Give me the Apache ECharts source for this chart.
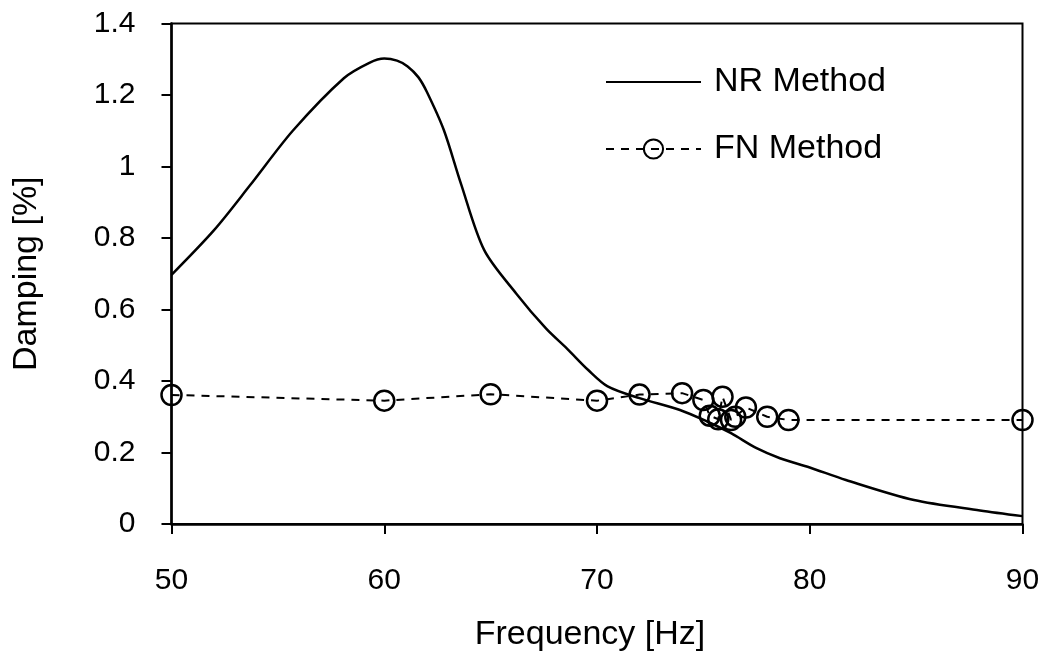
<!DOCTYPE html>
<html>
<head>
<meta charset="utf-8">
<script src="https://cdn.jsdelivr.net/npm/echarts@6/dist/echarts.min.js"></script>
<style>
html,body{margin:0;padding:0;background:#fff;}
#c{width:1052px;height:662px;}
</style>
</head>
<body>
<div id="c"></div>
<script>
var nrFreq = [50, 52, 53.7, 55.7, 58.1, 59.3, 60.0, 60.6, 61.1, 61.6, 62.0, 62.8, 63.6, 64.7, 66.2, 67.6, 68.6, 69.6, 70.5, 72.0, 73.9, 75.2, 76.3, 77.5, 78.6, 80.0, 81.7, 84.9, 88, 90];
var nrDamp = [0.697, 0.822, 0.948, 1.10, 1.247, 1.290, 1.302, 1.296, 1.280, 1.250, 1.209, 1.102, 0.953, 0.766, 0.645, 0.547, 0.490, 0.430, 0.385, 0.352, 0.319, 0.286, 0.254, 0.212, 0.184, 0.158, 0.123, 0.067, 0.038, 0.022];
var fnFreq = [50, 60, 65, 70, 72, 74, 75, 75.3, 75.7, 75.9, 76.3, 76.5, 77.0, 78.0, 79.0, 90];
var fnDamp = [0.361, 0.345, 0.363, 0.345, 0.362, 0.366, 0.347, 0.303, 0.293, 0.356, 0.291, 0.300, 0.326, 0.300, 0.291, 0.291];
var xTicks = [50, 60, 70, 80, 90];
var yTicks = [0, 0.2, 0.4, 0.6, 0.8, 1, 1.2, 1.4];
var seriesNames = ['NR Method', 'FN Method'];

function pairs(xs, ys){ return xs.map(function(x,i){ return [x, ys[i]]; }); }

var font = 'Liberation Sans, Arial, sans-serif';
var chart = echarts.init(document.getElementById('c'), null, {renderer:'canvas'});
chart.setOption({
  animation: false,
  backgroundColor: '#fff',
  grid: {left: 171.5, right: 29.5, top: 23.5, bottom: 138, show: true, borderColor: '#000', borderWidth: 2},
  legend: {
    orient: 'vertical', left: 600, top: 60,
    itemWidth: 95, itemHeight: 24, itemGap: 33,
    data: [
      {name: seriesNames[0], itemStyle: {opacity: 0, color: 'rgba(0,0,0,0)', borderColor: 'rgba(0,0,0,0)'}},
      {name: seriesNames[1]}
    ],
    textStyle: {fontFamily: font, fontSize: 34, color: '#000', lineHeight: 34, padding: [0,0,0,8]}
  },
  xAxis: {
    type: 'value', min: xTicks[0], max: xTicks[xTicks.length-1], interval: 10,
    name: 'Frequency [Hz]', nameLocation: 'middle', nameGap: 94,
    nameTextStyle: {fontFamily: font, fontSize: 34, color: '#000', padding: [0, 14, 0, 0]},
    axisLine: {lineStyle: {color: '#000', width: 2.5}},
    axisTick: {show: true, inside: false, length: 10, lineStyle: {color: '#000', width: 2}},
    axisLabel: {margin: 42, fontFamily: font, fontSize: 30, color: '#000'},
    splitLine: {show: false}
  },
  yAxis: {
    type: 'value', min: yTicks[0], max: yTicks[yTicks.length-1], interval: 0.2,
    name: 'Damping [%]', nameLocation: 'middle', nameGap: 128,
    nameTextStyle: {fontFamily: font, fontSize: 34, color: '#000'},
    axisLine: {show: true, lineStyle: {color: '#000', width: 2.5}},
    axisTick: {show: true, inside: false, length: 10, lineStyle: {color: '#000', width: 2}},
    axisLabel: {margin: 36, fontFamily: font, fontSize: 30, color: '#000',
      formatter: function(v){ return String(parseFloat(v.toFixed(1))); }},
    splitLine: {show: false}
  },
  series: [
    {
      name: seriesNames[0], type: 'line', data: pairs(nrFreq, nrDamp),
      smooth: 0.3, showSymbol: false, symbol: 'none',
      lineStyle: {color: '#000', width: 2.5},
      itemStyle: {color: '#000'}
    },
    {
      name: seriesNames[1], type: 'line', data: pairs(fnFreq, fnDamp),
      symbol: 'circle', symbolSize: 20, showAllSymbol: true,
      lineStyle: {color: '#000', width: 2, type: [8, 7]},
      itemStyle: {color: 'rgba(0,0,0,0)', borderColor: '#000', borderWidth: 2.5}
    }
  ]
});
</script>
</body>
</html>
